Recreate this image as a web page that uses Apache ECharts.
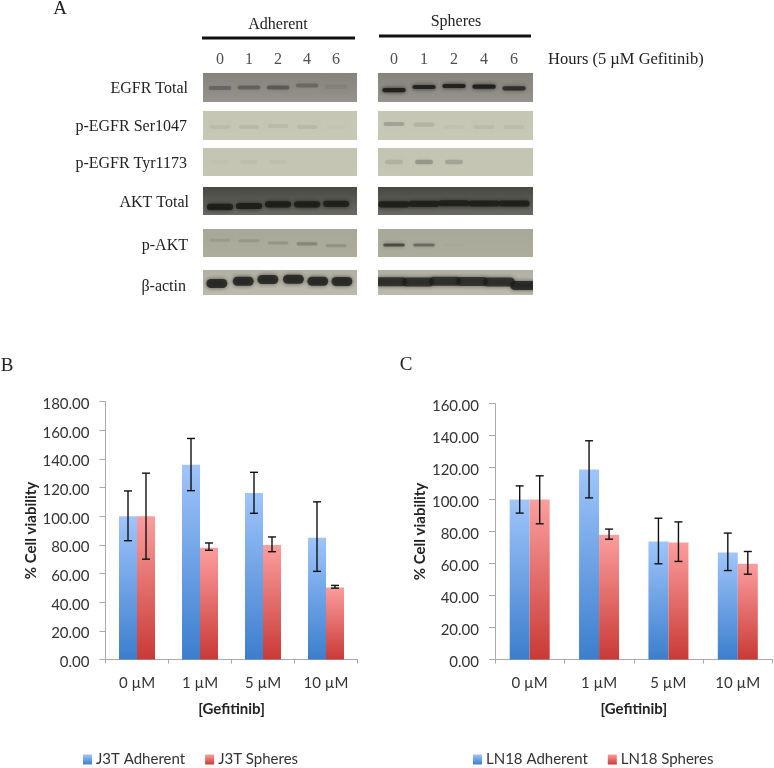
<!DOCTYPE html>
<html><head><meta charset="utf-8">
<style>html,body{margin:0;padding:0;background:#fff}#c{width:774px;height:768px;filter:blur(0.45px)}</style>
<script src="https://cdn.jsdelivr.net/npm/echarts@6/dist/echarts.min.js"></script>
</head><body><div id="c"></div>
<script>
// ---------- data: bar charts ----------
const doseLabels = ['0 µM', '1 µM', '5 µM', '10 µM'];
const j3tAdherent = [100, 135.8, 116.2, 85];
const j3tAdherentLow = [82.9, 117.8, 102, 61.5];
const j3tAdherentHigh = [117.6, 154.2, 130.6, 110];
const j3tSpheres = [100, 78, 79.9, 50.3];
const j3tSpheresLow = [70, 76.2, 75.2, 49.8];
const j3tSpheresHigh = [130, 81.3, 85.5, 51.7];
const ln18Adherent = [100, 118.8, 73.8, 66.9];
const ln18AdherentLow = [91.5, 101, 59.8, 55.6];
const ln18AdherentHigh = [108.5, 136.7, 88.3, 79];
const ln18Spheres = [100, 78, 73.1, 59.8];
const ln18SpheresLow = [84.8, 75.2, 61.3, 53.3];
const ln18SpheresHigh = [114.8, 81.5, 86, 67.5];

// ---------- data: western blots (band position % from top, band darkness 0-1) ----------
const hourLabels = ['0', '1', '2', '4', '6'];
const fiveLanes = [0, 1, 2, 3, 4];
const actinLanesAdherent = [-0.11, 0.8, 1.65, 2.53, 3.37, 4.2];
const actinLanesSpheres = [-0.1, 0.8, 1.7, 2.6, 3.5, 4.4];
const rowLabels = ['EGFR Total', 'p-EGFR Ser1047', 'p-EGFR Tyr1173', 'AKT Total', 'p-AKT', 'β-actin'];
const egfrAdhPos = [52, 50, 50, 43, 47];
const egfrAdhDark = [0.3, 0.34, 0.4, 0.28, 0.08];
const egfrSphPos = [59, 48, 45, 47, 53];
const egfrSphDark = [0.92, 0.88, 0.92, 0.92, 0.75];
const serAdhPos = [55, 55, 52, 55, 55];
const serAdhDark = [0.05, 0.07, 0.07, 0.07, 0.01];
const serSphPos = [45, 47, 55, 55, 55];
const serSphDark = [0.2, 0.1, 0.03, 0.06, 0.06];
const tyrAdhPos = [50, 50, 50, 50, 50];
const tyrAdhDark = [0.025, 0.04, 0.03, 0, 0];
const tyrSphPos = [50, 50, 50, 50, 50];
const tyrSphDark = [0.1, 0.25, 0.18, 0, 0];
const aktAdhPos = [71, 68, 62, 62, 60];
const aktAdhDark = [0.92, 0.92, 0.92, 0.92, 0.88];
const aktSphPos = [62, 60, 58, 59, 59];
const aktSphDark = [0.88, 0.88, 0.88, 0.88, 0.88];
const pAktAdhPos = [40, 42, 50, 53, 60];
const pAktAdhDark = [0.1, 0.13, 0.15, 0.24, 0.17];
const pAktSphPos = [57, 57, 57, 57, 57];
const pAktSphDark = [0.6, 0.4, 0.02, 0, 0];
const actinAdhPos = [54, 45, 38, 37, 45, 46];
const actinAdhDark = [0.8, 0.8, 0.8, 0.8, 0.8, 0.8];
const actinSphPos = [47, 48, 45, 46, 48, 62];
const actinSphDark = [0.75, 0.75, 0.75, 0.75, 0.75, 0.8];

// ---------- layout and style ----------
const serif = '"Liberation Serif", serif';
const sans = 'Lato, sans-serif';
const columns = [
  { left: 203, width: 154, min: -0.586, max: 4.72 },
  { left: 378, width: 155, min: -0.533, max: 4.63 }
];
const rows = [
  { top: 73, height: 29, bg: ['#85837c', '#95938b'], thick: 14, laneW: [0.78, 0.78], labelRight: 188, labelY: 89 },
  { top: 111, height: 29, bg: ['#c6c6b5', '#c8c8b7'], thick: 14, laneW: [0.7, 0.7], labelRight: 187, labelY: 127 },
  { top: 148, height: 28, bg: ['#c4c4b3', '#c6c6b5'], thick: 16, laneW: [0.6, 0.6], labelRight: 187, labelY: 164 },
  { top: 187, height: 28, bg: ['#484844', '#6a6964'], thick: 22, laneW: [0.9, 1.04], labelRight: 189, labelY: 203 },
  { top: 229, height: 28, bg: ['#a8a899', '#adad9e'], thick: 11, laneW: [0.72, 0.72], labelRight: 188, labelY: 246 },
  { top: 270, height: 25, bg: ['#b2b0a2', '#bcbaac'], thick: 36, laneW: [0.72, 1.06], labelRight: 186, labelY: 287 }
];
const blots = [
  [0, 0, fiveLanes, egfrAdhPos, egfrAdhDark], [0, 1, fiveLanes, egfrSphPos, egfrSphDark],
  [1, 0, fiveLanes, serAdhPos, serAdhDark], [1, 1, fiveLanes, serSphPos, serSphDark],
  [2, 0, fiveLanes, tyrAdhPos, tyrAdhDark], [2, 1, fiveLanes, tyrSphPos, tyrSphDark],
  [3, 0, fiveLanes, aktAdhPos, aktAdhDark], [3, 1, fiveLanes, aktSphPos, aktSphDark],
  [4, 0, fiveLanes, pAktAdhPos, pAktAdhDark], [4, 1, fiveLanes, pAktSphPos, pAktSphDark],
  [5, 0, actinLanesAdherent, actinAdhPos, actinAdhDark], [5, 1, actinLanesSpheres, actinSphPos, actinSphDark]
];
const vGrad = (a, b) => new echarts.graphic.LinearGradient(0, 0, 0, 1, [{ offset: 0, color: a }, { offset: 1, color: b }]);
const blueFill = () => vGrad('#9fc5fb', '#3c7ecd');
const redFill = () => vGrad('#fb9e9d', '#c93a36');

const option = { animation: false, backgroundColor: '#fff', grid: [], xAxis: [], yAxis: [], series: [], legend: [], graphic: [] };

function addBlot(rowI, colI, lanes, pos, dark) {
  const r = rows[rowI], c = columns[colI], g = option.grid.length;
  option.grid.push({ show: true, left: c.left, top: r.top, width: c.width, height: r.height,
    backgroundColor: vGrad(r.bg[0], r.bg[1]), borderWidth: 0, containLabel: false });
  option.xAxis.push({ type: 'value', gridIndex: g, min: c.min, max: c.max, show: false });
  option.yAxis.push({ type: 'value', gridIndex: g, min: 0, max: 100, inverse: true, show: false });
  option.series.push({
    type: 'custom', xAxisIndex: g, yAxisIndex: g, silent: true, clip: true,
    data: lanes.map((l, i) => [l, pos[i], dark[i]]),
    renderItem: (p, api) => {
      const d = api.value(2);
      if (!d) return null;
      const pt = api.coord([api.value(0), api.value(1)]);
      const size = api.size([r.laneW[colI], r.thick]);
      const color = 'rgba(28,28,26,' + d + ')';
      return { type: 'rect',
        shape: { x: pt[0] - size[0] / 2, y: pt[1] - size[1] / 2, width: size[0], height: size[1], r: size[1] / 2 },
        style: { fill: color, shadowBlur: 4, shadowColor: color } };
    }
  });
}
blots.forEach(b => addBlot.apply(null, b));

function addLaneLabels(colI) {
  const c = columns[colI], g = option.grid.length;
  option.grid.push({ left: c.left, top: 50, width: c.width, height: 20 });
  option.xAxis.push({ type: 'value', gridIndex: g, min: c.min, max: c.max, show: false });
  option.yAxis.push({ type: 'value', gridIndex: g, min: 0, max: 1, show: false });
  option.series.push({
    type: 'scatter', xAxisIndex: g, yAxisIndex: g, symbolSize: 0, silent: true,
    data: fiveLanes.map(l => [l, 0.5, hourLabels[l]]),
    label: { show: true, position: 'inside', formatter: p => p.value[2],
      fontFamily: serif, fontSize: 16, color: '#222' }
  });
}
addLaneLabels(0); addLaneLabels(1);

function addBarChart(cfg) {
  const g = option.grid.length;
  option.grid.push({ left: cfg.left, top: cfg.top, width: cfg.width, height: cfg.height });
  option.xAxis.push({
    type: 'category', gridIndex: g, data: doseLabels, name: '[Gefitinib]', nameLocation: 'middle', nameGap: 42,
    nameTextStyle: { fontFamily: sans, fontWeight: 'bold', fontSize: 15, color: '#222' },
    axisLine: { lineStyle: { color: '#aaa', width: 1 } },
    axisTick: { show: true, length: 4, alignWithLabel: false, lineStyle: { color: '#aaa' } },
    axisLabel: { fontFamily: sans, fontSize: 15, color: '#333', margin: 16 }
  });
  option.yAxis.push({
    type: 'value', gridIndex: g, min: 0, max: cfg.max, interval: 20, name: '% Cell viability',
    nameLocation: 'middle', nameGap: 66, nameRotate: 90,
    nameTextStyle: { fontFamily: sans, fontWeight: 'bold', fontSize: 15, color: '#222' },
    axisLine: { show: true, lineStyle: { color: '#aaa', width: 1 } },
    axisTick: { show: true, length: 6, lineStyle: { color: '#aaa' } },
    axisLabel: { fontFamily: sans, fontSize: 15, color: '#333', margin: 16, verticalAlign: 'top', lineHeight: 5, formatter: v => v.toFixed(2) },
    splitLine: { show: false }
  });
  const errorSeries = (low, high, dir) => ({
    type: 'custom', xAxisIndex: g, yAxisIndex: g, silent: true, z: 5,
    data: low.map((l, i) => [i, l, high[i]]),
    renderItem: (p, api) => {
      const lo = api.coord([api.value(0), api.value(1)]);
      const hi = api.coord([api.value(0), api.value(2)]);
      const x = lo[0] + dir * cfg.barWidth / 2, cap = 4;
      const style = { stroke: '#111', lineWidth: 1.4, fill: 'none' };
      return { type: 'group', children: [
        { type: 'line', shape: { x1: x, y1: lo[1], x2: x, y2: hi[1] }, style },
        { type: 'line', shape: { x1: x - cap, y1: lo[1], x2: x + cap, y2: lo[1] }, style },
        { type: 'line', shape: { x1: x - cap, y1: hi[1], x2: x + cap, y2: hi[1] }, style }
      ] };
    }
  });
  option.series.push(
    { type: 'bar', name: cfg.names[0], xAxisIndex: g, yAxisIndex: g, data: cfg.a, barWidth: cfg.barWidth, barGap: 0,
      itemStyle: { color: blueFill() } },
    { type: 'bar', name: cfg.names[1], xAxisIndex: g, yAxisIndex: g, data: cfg.b, barWidth: cfg.barWidth, barGap: 0,
      itemStyle: { color: redFill() } },
    errorSeries(cfg.aLow, cfg.aHigh, -1),
    errorSeries(cfg.bLow, cfg.bHigh, 1)
  );
  option.legend.push({ data: cfg.names, left: cfg.legendLeft, top: 747, icon: 'rect', itemWidth: 9, itemHeight: 10,
    itemGap: 20, textStyle: { fontFamily: sans, fontSize: 15, color: '#333', padding: [0, 0, 0, -1] } });
}
addBarChart({ left: 105.5, top: 401.5, width: 252, height: 258, max: 180, barWidth: 18,
  names: ['J3T Adherent', 'J3T Spheres'], a: j3tAdherent, b: j3tSpheres,
  aLow: j3tAdherentLow, aHigh: j3tAdherentHigh, bLow: j3tSpheresLow, bHigh: j3tSpheresHigh, legendLeft: 78 });
addBarChart({ left: 495, top: 403.5, width: 277.5, height: 256, max: 160, barWidth: 20,
  names: ['LN18 Adherent', 'LN18 Spheres'], a: ln18Adherent, b: ln18Spheres,
  aLow: ln18AdherentLow, aHigh: ln18AdherentHigh, bLow: ln18SpheresLow, bHigh: ln18SpheresHigh, legendLeft: 468 });

// ---------- text and header rules ----------
const text = (t, x, y, size, align) => ({ type: 'text', x, y, silent: true,
  style: { text: t, fontFamily: serif, fontSize: size, fill: '#222', align: align || 'center', verticalAlign: 'middle' } });
option.graphic = [
  text('A', 60, 9, 19), text('B', 7, 366, 19), text('C', 406, 365, 19),
  text('Adherent', 278, 25, 16), text('Spheres', 456, 22, 16),
  text('Hours (5 µM Gefitinib)', 548, 60, 16.5, 'left'),
  ...rowLabels.map((l, i) => text(l, rows[i].labelRight, rows[i].labelY, 16, 'right')),
  { type: 'rect', silent: true, shape: { x: 202, y: 36.5, width: 153, height: 3 }, style: { fill: '#111' } },
  { type: 'rect', silent: true, shape: { x: 379, y: 34.5, width: 152, height: 3 }, style: { fill: '#111' } }
];

echarts.init(document.getElementById('c'), null, { renderer: 'canvas' }).setOption(option);
</script></body></html>
